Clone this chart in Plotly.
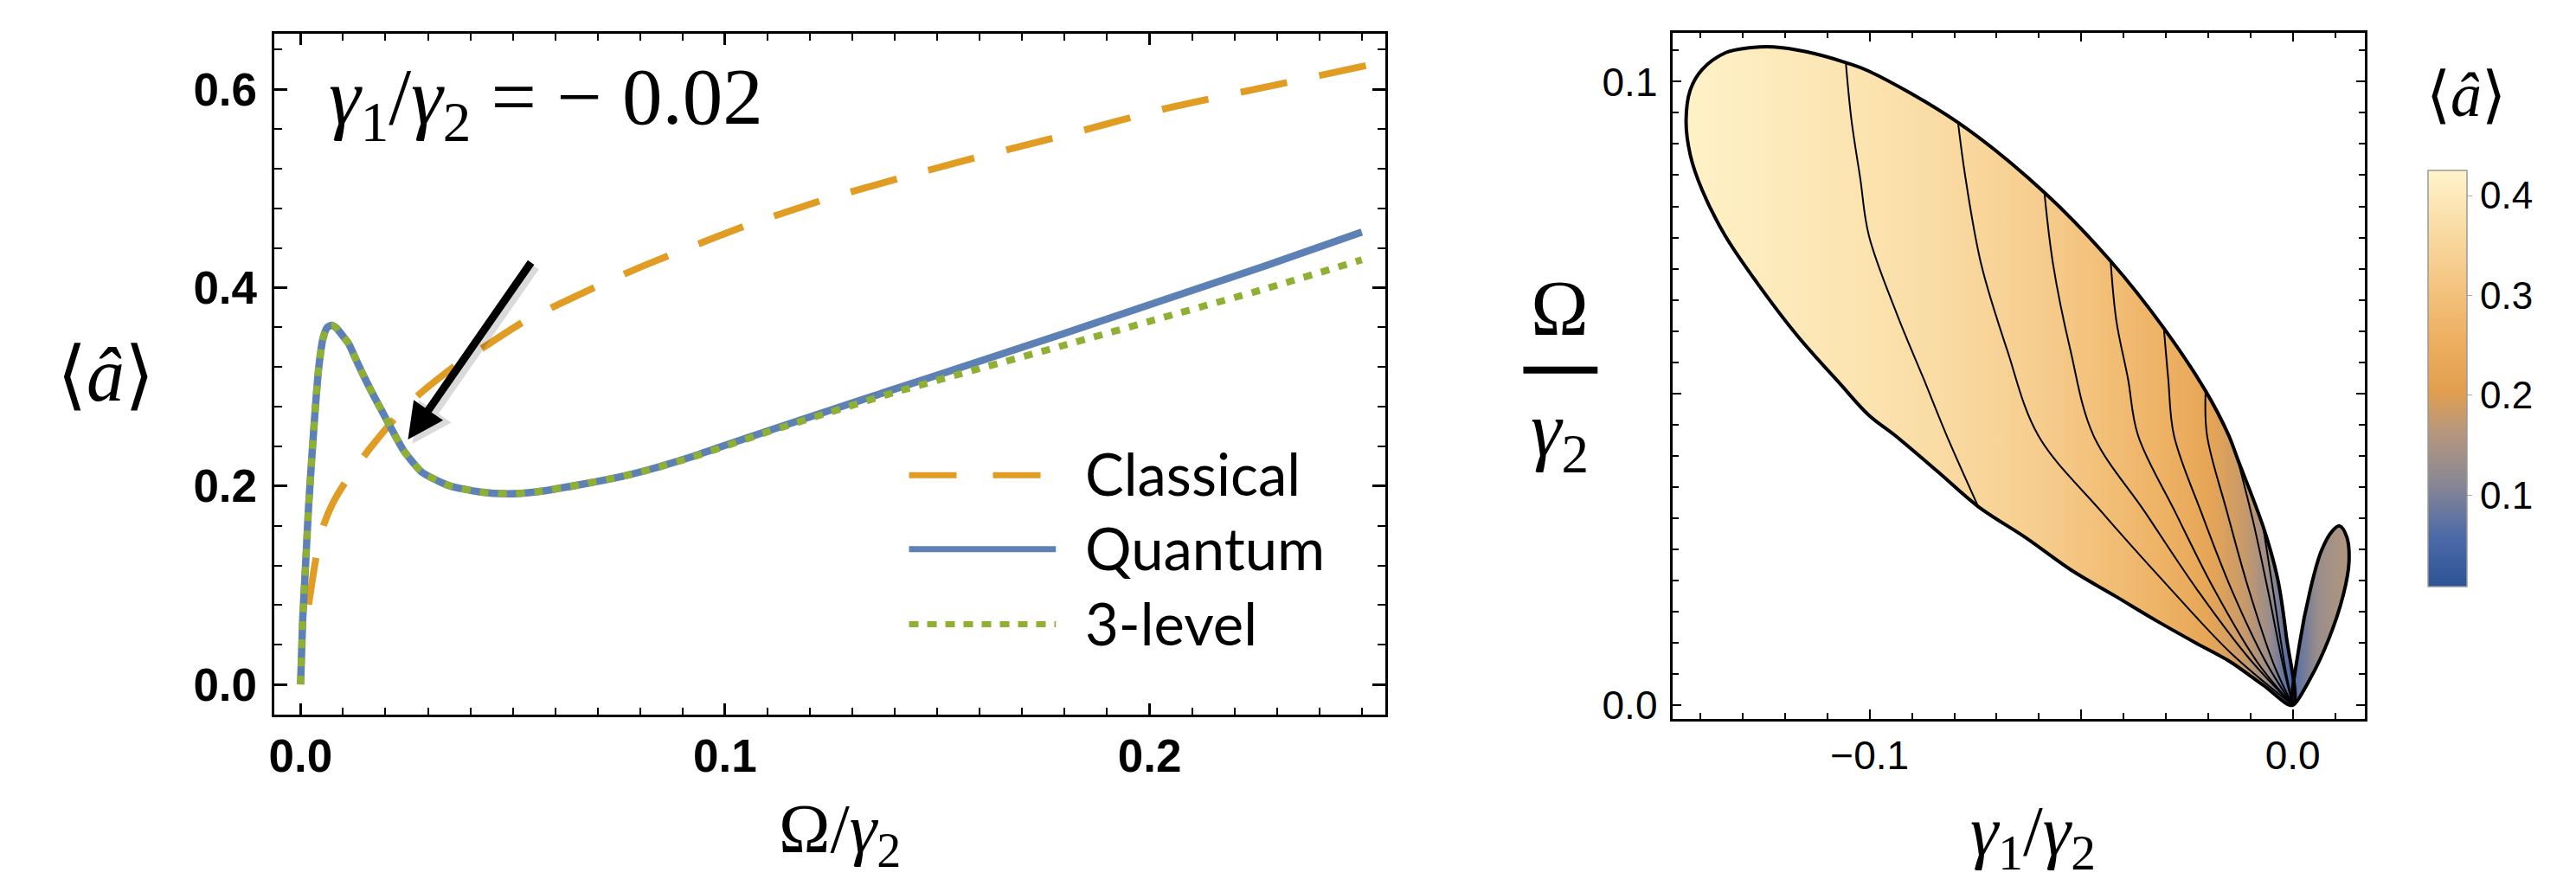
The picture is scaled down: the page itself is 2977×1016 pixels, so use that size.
import plotly.graph_objects as go
from plotly.colors import sample_colorscale

W, H = 2977, 1016


def px(x):
    return x / W


def py(y):
    return 1 - y / H


# ---------------- Left panel data ----------------
omega_q = [0.0000, 0.0005, 0.0012, 0.0019, 0.0027, 0.0035, 0.0043, 0.0053, 0.0063, 0.0073,
           0.0085, 0.0100, 0.0114, 0.0130, 0.0148, 0.0170, 0.0190, 0.0215, 0.0244, 0.0285,
           0.0320, 0.0353, 0.0420, 0.0488, 0.0556, 0.0658, 0.0760, 0.0827, 0.0918, 0.1000,
           0.1100, 0.1244, 0.1400, 0.1558, 0.1800, 0.2033, 0.2270, 0.2500]
a_quantum = [0.000, 0.065, 0.122, 0.180, 0.232, 0.280, 0.320, 0.349, 0.360, 0.362,
             0.359, 0.351, 0.343, 0.328, 0.3116, 0.293, 0.277, 0.257, 0.235, 0.2143,
             0.206, 0.200, 0.1942, 0.1922, 0.1942, 0.2014, 0.2100, 0.2173, 0.2290, 0.2410,
             0.2555, 0.2760, 0.2978, 0.3200, 0.3540, 0.3876, 0.4215, 0.4560]

omega_3 = omega_q
a_3level = [0.000, 0.065, 0.122, 0.180, 0.232, 0.280, 0.320, 0.349, 0.360, 0.362,
            0.359, 0.351, 0.343, 0.328, 0.3116, 0.293, 0.277, 0.257, 0.235, 0.2143,
            0.206, 0.200, 0.1942, 0.1922, 0.1942, 0.2014, 0.2100, 0.2170, 0.2285, 0.2400,
            0.2545, 0.2740, 0.2945, 0.3135, 0.3420, 0.3700, 0.3985, 0.4280]

omega_c = [0.0019, 0.0036, 0.0053, 0.0075, 0.0104, 0.0156, 0.0223, 0.0277, 0.0366, 0.0433,
           0.0528, 0.0602, 0.0697, 0.0779, 0.0866, 0.1053, 0.1240, 0.1426, 0.1558, 0.1674,
           0.1800, 0.2033, 0.2305, 0.2511]
a_classical = [0.0805, 0.1266, 0.159, 0.182, 0.203, 0.2339, 0.2685, 0.2915, 0.3217, 0.3404,
               0.3663, 0.3820, 0.4010, 0.4167, 0.4320, 0.4630, 0.4895, 0.5120, 0.5274, 0.5400,
               0.5535, 0.5800, 0.6050, 0.6238]

series_names = ["Classical", "Quantum", "3-level"]
series_colors = ["#E19C24", "#5E81B5", "#8FB032"]

x_ticks_left = [0.0, 0.1, 0.2]
x_ticktext_left = ["0.0", "0.1", "0.2"]
y_ticks_left = [0.0, 0.2, 0.4, 0.6]
y_ticktext_left = ["0.0", "0.2", "0.4", "0.6"]

arrow_tip = (0.0253, 0.2469)
arrow_tail = (0.0545, 0.4267)

# ---------------- Right panel data ----------------
lobe_g1 = [0.0, -0.00157, -0.00361, -0.0070, -0.01312, -0.01516, -0.02061, -0.03047, -0.04306,
           -0.05871, -0.07912, -0.1002, -0.10565, -0.11500, -0.12265, -0.1290, -0.1340, -0.13965,
           -0.14239, -0.14341, -0.14239, -0.13965, -0.13422, -0.12741, -0.1172, -0.107, -0.1002,
           -0.09408, -0.08400, -0.07435, -0.06300, -0.05259, -0.04200, -0.03218, -0.02300,
           -0.01516, -0.00700, 0.0]
lobe_om = [0.0, 0.01123, 0.02038, 0.02862, 0.03962, 0.04329, 0.05039, 0.06046, 0.07122,
           0.08222, 0.09344, 0.10169, 0.10306, 0.10480, 0.10558, 0.10540, 0.10467, 0.10192,
           0.09871, 0.09368, 0.08818, 0.08268, 0.07535, 0.06848, 0.05932, 0.05153, 0.04649,
           0.04329, 0.03750, 0.03184, 0.02680, 0.02175, 0.01750, 0.01351, 0.01000,
           0.00710, 0.00320, 0.0]

small_g1 = [0.0, 0.00155, 0.00414, 0.00673, 0.00933, 0.01104, 0.01277, 0.01329, 0.01192,
            0.00845, 0.00414, 0.0]
small_om = [0.0, 0.0096, 0.0185, 0.0247, 0.0279, 0.02874, 0.02696, 0.02295, 0.01761,
            0.01049, 0.00426, 0.0]

mesh_g1 = [
    [-0.10565, -0.10429, -0.10224, -0.1002, -0.09347, -0.08735, -0.08184, -0.07435],
    [-0.07912, -0.07735, -0.07367, -0.06755, -0.0602, -0.0451, -0.02878, -0.01449, 0.0],
    [-0.05871, -0.05667, -0.05259, -0.04714, -0.0349, -0.02265, -0.01041, 0.0],
    [-0.04306, -0.04169, -0.03898, -0.03659, -0.02776, -0.01857, -0.00837, 0.0],
    [-0.03047, -0.02945, -0.0281, -0.02163, -0.01449, -0.00633, 0.0],
    [-0.02061, -0.02027, -0.01551, -0.01041, -0.00429, 0.0],
    [-0.01312, -0.00939, -0.00592, -0.00224, 0.0],
    [-0.0070, -0.00469, -0.00184, 0.0],
]
mesh_om = [
    [0.10306, 0.09372, 0.08451, 0.07531, 0.06253, 0.05249, 0.04329, 0.03184],
    [0.09344, 0.08451, 0.07077, 0.05703, 0.04329, 0.03092, 0.01855, 0.00825, 0.0],
    [0.08222, 0.07077, 0.05703, 0.04329, 0.03092, 0.01855, 0.00756, 0.0],
    [0.07122, 0.0616, 0.05245, 0.04329, 0.03092, 0.01855, 0.00687, 0.0],
    [0.06046, 0.05245, 0.04329, 0.03092, 0.01855, 0.00687, 0.0],
    [0.05039, 0.04329, 0.03092, 0.01855, 0.00618, 0.0],
    [0.03962, 0.02954, 0.01855, 0.00618, 0.0],
    [0.02862, 0.01855, 0.00618, 0.0],
]

fill_g1 = [-0.1434, -0.12, -0.10, -0.08, -0.06, -0.045, -0.03, -0.02, -0.012, -0.006, -0.002, 0.0]
fill_a = [0.42, 0.40, 0.385, 0.36, 0.33, 0.295, 0.26, 0.225, 0.18, 0.13, 0.07, 0.03]
small_fill_g1 = [0.0, 0.006, 0.0133]
small_fill_a = [0.06, 0.13, 0.16]

a_min, a_max = 0.008, 0.425
colorscale = [
    [0.00, "#2D5394"],
    [0.12, "#4D6AA8"],
    [0.25, "#8A8794"],
    [0.38, "#B9987A"],
    [0.47, "#E29E4F"],
    [0.60, "#EDB062"],
    [0.75, "#F5C988"],
    [0.90, "#FBE2AE"],
    [1.00, "#FFF4CC"],
]
cbar_ticks = [0.1, 0.2, 0.3, 0.4]

x_ticks_right = [-0.1, -0.05, 0.0]
x_ticktext_right = ["\u22120.1", " ", "0.0"]
y_ticks_right = [0.0, 0.05, 0.1]
y_ticktext_right = ["0.0", " ", "0.1"]


def gradient(gs, vals):
    g0, g1 = min(gs), max(gs)
    stops = []
    for g, v in zip(gs, vals):
        c = sample_colorscale(colorscale, [(v - a_min) / (a_max - a_min)])[0]
        stops.append([(g - g0) / (g1 - g0), c])
    return stops


fig = go.Figure()

# ---- left panel curves
fig.add_trace(go.Scatter(x=omega_c, y=a_classical, mode="lines", name=series_names[0],
                         line=dict(color=series_colors[0], width=8, dash="55px,38px",
                                   shape="spline", smoothing=0.6),
                         xaxis="x", yaxis="y", showlegend=False))
fig.add_trace(go.Scatter(x=omega_q, y=a_quantum, mode="lines", name=series_names[1],
                         line=dict(color=series_colors[1], width=8.5, shape="spline",
                                   smoothing=0.6),
                         xaxis="x", yaxis="y", showlegend=False))
fig.add_trace(go.Scatter(x=omega_3, y=a_3level, mode="lines", name=series_names[2],
                         line=dict(color=series_colors[2], width=8, dash="10px,11px",
                                   shape="spline", smoothing=0.6),
                         xaxis="x", yaxis="y", showlegend=False))

# ---- right panel lobes
fig.add_trace(go.Scatter(x=lobe_g1, y=lobe_om, mode="lines", fill="toself",
                         fillgradient=dict(type="horizontal", colorscale=gradient(fill_g1, fill_a)),
                         line=dict(width=0, color="rgba(0,0,0,0)", shape="spline"),
                         xaxis="x2", yaxis="y2", showlegend=False, hoverinfo="skip"))
fig.add_trace(go.Scatter(x=small_g1, y=small_om, mode="lines", fill="toself",
                         fillgradient=dict(type="horizontal",
                                           colorscale=gradient(small_fill_g1, small_fill_a)),
                         line=dict(width=0, color="rgba(0,0,0,0)", shape="spline"),
                         xaxis="x2", yaxis="y2", showlegend=False, hoverinfo="skip"))
for mg, mo in zip(mesh_g1, mesh_om):
    fig.add_trace(go.Scatter(x=mg, y=mo, mode="lines",
                             line=dict(color="black", width=2, shape="spline"),
                             xaxis="x2", yaxis="y2", showlegend=False, hoverinfo="skip"))
for bg, bo in ((lobe_g1, lobe_om), (small_g1, small_om)):
    fig.add_trace(go.Scatter(x=bg, y=bo, mode="lines",
                             line=dict(color="black", width=4, shape="spline"),
                             xaxis="x2", yaxis="y2", showlegend=False, hoverinfo="skip"))

# colourbar carrier
fig.add_trace(go.Scatter(
    x=[None], y=[None], mode="markers", xaxis="x2", yaxis="y2", showlegend=False,
    marker=dict(color=[a_min, a_max], colorscale=colorscale, cmin=a_min, cmax=a_max,
                showscale=True,
                colorbar=dict(x=px(2798), xanchor="left", y=py(434), yanchor="middle",
                              len=486 / H, lenmode="fraction", thickness=45,
                              thicknessmode="pixels", outlinewidth=1.5, outlinecolor="#999999",
                              tickvals=cbar_ticks, ticktext=[f"{t:.1f}" for t in cbar_ticks],
                              ticks="outside", ticklen=6, tickcolor="#aaaaaa",
                              tickfont=dict(family="Liberation Sans", size=44, color="black"),
                              xpad=0, ypad=0))))

tick_common = dict(showline=True, linecolor="black", mirror="allticks", ticks="inside",
                   tickcolor="black", showgrid=False, zeroline=False)

fig.update_layout(
    width=W, height=H, margin=dict(l=0, r=0, t=0, b=0),
    paper_bgcolor="white", plot_bgcolor="white",
    xaxis=dict(domain=[px(303.3), px(1590)], range=[-0.00625, 0.2555],
               tickvals=x_ticks_left, ticktext=x_ticktext_left, linewidth=3, ticklen=13,
               tickwidth=2.5, ticklabelstandoff=0,
               minor=dict(dtick=0.01, tick0=0, ticks="inside", ticklen=8, tickwidth=2,
                          tickcolor="black"),
               tickfont=dict(family="Liberation Sans", size=53, color="black", weight="bold"),
               anchor="y", **tick_common),
    yaxis=dict(domain=[py(826), py(31.7)], range=[-0.0302, 0.6555],
               tickvals=y_ticks_left, ticktext=y_ticktext_left, linewidth=3, ticklen=15,
               tickwidth=2.5, ticklabelstandoff=6,
               minor=dict(dtick=0.04, tick0=0, ticks="inside", ticklen=9, tickwidth=2,
                          tickcolor="black"),
               tickfont=dict(family="Liberation Sans", size=53, color="black", weight="bold"),
               anchor="x", **tick_common),
    xaxis2=dict(domain=[px(1923.3), px(2724)], range=[-0.1465, 0.01694],
                tickvals=x_ticks_right, ticktext=x_ticktext_right, linewidth=2.5, ticklen=11,
                tickwidth=2, ticklabelstandoff=0,
                minor=dict(dtick=0.01, tick0=0, ticks="inside", ticklen=7, tickwidth=2,
                           tickcolor="black"),
                tickfont=dict(family="Liberation Sans", size=46, color="black"),
                anchor="y2", **tick_common),
    yaxis2=dict(domain=[py(831), py(30)], range=[-0.0022, 0.10787],
                tickvals=y_ticks_right, ticktext=y_ticktext_right, linewidth=2.5, ticklen=10,
                tickwidth=2, ticklabelstandoff=6,
                minor=dict(dtick=0.005, tick0=0, ticks="inside", ticklen=7, tickwidth=2,
                           tickcolor="black"),
                tickfont=dict(family="Liberation Sans", size=46, color="black"),
                anchor="x2", **tick_common),
)

serif = "Liberation Serif, Times New Roman, serif"
ann = []
# arrow shadow + arrow
ann.append(dict(x=arrow_tip[0], y=arrow_tip[1], ax=arrow_tail[0], ay=arrow_tail[1],
                xref="x", yref="y", axref="x", ayref="y", text="", showarrow=True,
                arrowhead=2, arrowsize=0.92, arrowwidth=10, arrowcolor="rgba(0,0,0,0.14)",
                xshift=5, yshift=-5))
ann.append(dict(x=arrow_tip[0], y=arrow_tip[1], ax=arrow_tail[0], ay=arrow_tail[1],
                xref="x", yref="y", axref="x", ayref="y", text="", showarrow=True,
                arrowhead=2, arrowsize=0.92, arrowwidth=9, arrowcolor="black"))


def label(xp, yp, text, size, xanchor="center"):
    return dict(x=px(xp), y=py(yp), xref="paper", yref="paper", xanchor=xanchor,
                yanchor="middle", showarrow=False, text=text,
                font=dict(family=serif, size=size, color="black"))


ann.append(label(365, 112, "<i>γ</i><sub>1</sub>/<i>γ</i><sub>2</sub> = \u2212 0.02", 93,
                 xanchor="left"))
ann.append(label(108, 430, "\u27e8<i>â</i>\u27e9", 88))
ann.append(label(958, 965, "Ω/<i>γ</i><sub>2</sub>", 80))
ann.append(label(1792, 352, "Ω", 90))
ann.append(label(1792, 500, "<i>γ</i><sub>2</sub>", 90))
ann.append(label(2340, 968, "<i>γ</i><sub>1</sub>/<i>γ</i><sub>2</sub>", 82))
ann.append(label(2842, 103, "\u27e8<i>â</i>\u27e9", 72))
# legend texts
legend_y = [546.7, 633.0, 720.7]
for name, yy in zip(series_names, legend_y):
    ann.append(dict(x=px(1240), y=py(yy - 2), xref="paper", yref="paper", xanchor="left",
                    yanchor="middle", showarrow=False, text=name,
                    font=dict(family="Lato", size=67, color="black")))
fig.update_layout(annotations=ann)

shapes = []
dashes = ["55px,42px", "solid", "11px,10px"]
for col, yy, d in zip(series_colors, legend_y, dashes):
    shapes.append(dict(type="line", xref="paper", yref="paper", x0=px(1038.6), x1=px(1208.7),
                       y0=py(yy), y1=py(yy), line=dict(color=col, width=7, dash=d)))
shapes.append(dict(type="line", xref="paper", yref="paper", x0=px(1750), x1=px(1836),
                   y0=py(424), y1=py(424), line=dict(color="black", width=8)))
fig.update_layout(shapes=shapes)

fig.write_html("out.html", config={"displayModeBar": False})
